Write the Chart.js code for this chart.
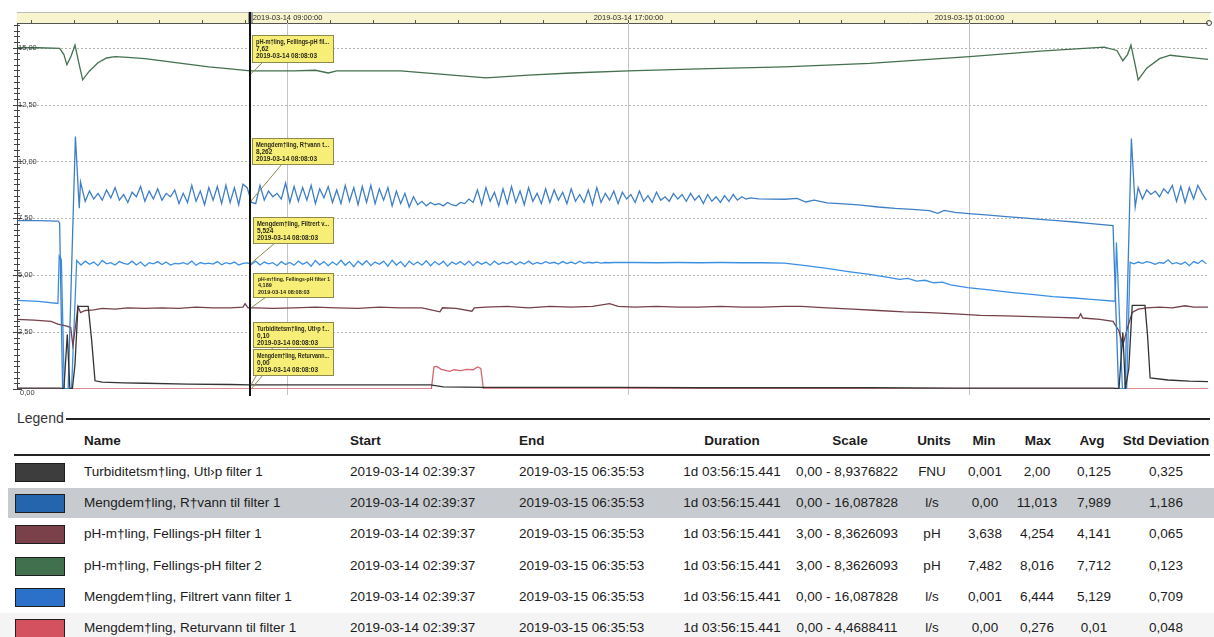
<!DOCTYPE html>
<html>
<head>
<meta charset="utf-8">
<script src="https://cdn.jsdelivr.net/npm/chart.js@4.4.1/dist/chart.umd.min.js"></script>
<style>
  html, body { margin: 0; padding: 0; background: #fff; }
  body { width: 1214px; height: 637px; overflow: hidden; position: relative;
         font-family: "Liberation Sans", Arial, sans-serif; color: #1c1c1c; }
  #chartBox { position: absolute; left: 0; top: 0; width: 1214px; height: 400px; }
  #legend { position: absolute; left: 0; top: 400px; width: 1214px; height: 237px; }
  .cell { position: absolute; white-space: nowrap; font-size: 13.5px; line-height: 16px; }
  .head { font-weight: bold; }
  .mid { transform: translateX(-50%); }
</style>
</head>
<body>
<div id="chartBox"><canvas id="trend" width="1214" height="400"></canvas></div>
<div id="legend"></div>
<script>
// Period shown (hours are counted from the start of the period)
const periodStart = "2019-03-14 02:39:37";
const periodEnd = "2019-03-15 06:35:53";
const periodDuration = "1d 03:56:15.441";
const startClock = 2 + 39 / 60 + 37 / 3600;   // 02:39:37 as hours of 2019-03-14
const totalHours = 27.93762;
const SAMPLE_STEP = 0.1;                        // dense stretches are logged every 6 min

// Top time axis
const timeLabels = ["2019-03-14 09:00:00", "2019-03-14 17:00:00", "2019-03-15 01:00:00"];
const timeLabelClock = [9, 17, 25];
// Left value axis
const yTickValues = [0, 2.5, 5, 7.5, 10, 12.5, 15];

// Series (legend order)
const seriesNames = [
    "Turbiditetsm†ling, Utl›p filter 1",
    "Mengdem†ling, R†vann til filter 1",
    "pH-m†ling, Fellings-pH filter 1",
    "pH-m†ling, Fellings-pH filter 2",
    "Mengdem†ling, Filtrert vann filter 1",
    "Mengdem†ling, Returvann til filter 1"
];
const lineColors = ["#333333", "#3f7fc6", "#74404a", "#44704f", "#3b8fe3", "#d8646e"];
const swatchColors = ["#3d3d3d", "#2465ae", "#7a414b", "#41704f", "#2b71c9", "#d4525f"];
const scaleMin = [0, 0, 3, 3, 0, 0];
const scaleMax = [8.9376822, 16.087828, 8.3626093, 8.3626093, 16.087828, 4.4688411];
const units = ["FNU", "l/s", "pH", "pH", "l/s", "l/s"];
const statMin = ["0,001", "0,00", "3,638", "7,482", "0,001", "0,00"];
const statMax = ["2,00", "11,013", "4,254", "8,016", "6,444", "0,276"];
const statAvg = ["0,125", "7,989", "4,141", "7,712", "5,129", "0,01"];
const statStd = ["0,325", "1,186", "0,065", "0,123", "0,709", "0,048"];

// Turbidity (FNU)
const turbHours = [0, 0.5, 1.0, 1.1, 1.18, 1.24, 1.3, 1.36, 1.43, 1.67,
    1.75, 1.83, 2.0, 2.5, 3.0, 4.0, 5.0, 5.47, 6.5, 8.0,
    9.7, 10.0, 11.0, 12.0, 14.0, 16.0, 18.0, 20.0, 22.0, 24.0,
    25.71, 25.85, 25.94, 26.0, 26.08, 26.16, 26.46, 26.52, 26.58, 27.0,
    27.5, 27.94];
const turbValues = [0.02, 0.02, 0.02, 0.01, 1.33, 0.02, 0.01, 0.6, 2.02, 2.02,
    1.2, 0.20, 0.17, 0.15, 0.14, 0.12, 0.11, 0.10, 0.10, 0.10,
    0.10, 0.05, 0.04, 0.04, 0.04, 0.03, 0.03, 0.03, 0.02, 0.02,
    0.02, 0.01, 1.38, 0.01, 0.5, 2.04, 2.04, 1.3, 0.27, 0.22,
    0.19, 0.18];

// Raw water flow (l/s)
const ravannHoursA = [0, 0.5, 0.96, 1.0, 1.07, 1.2, 1.37, 1.46, 1.49];
const ravannA = [7.40, 7.40, 7.38, 7.30, 0, 0, 11.10, 7.95, 9.10];
const ravannDenseStartA = 1.6;
const ravannDenseA = [
    8.25, 8.70, 8.35, 8.60, 8.30, 8.75, 8.40, 8.85, 8.30, 8.55,
    8.20, 8.65, 8.45, 8.90, 8.25, 8.70, 8.35, 8.80, 8.30, 8.60,
    8.45, 8.75, 8.15, 8.60, 8.20, 8.95, 8.25, 8.70, 8.10, 8.85,
    8.30, 8.90, 8.15, 8.95, 8.20, 8.85, 8.10, 9.00, 8.85, 8.20,
    8.15, 8.95, 8.30, 8.70, 8.45, 8.60, 8.35, 9.05, 8.20, 8.90,
    8.25, 8.85, 8.30, 8.95, 8.15, 8.80, 8.40, 8.90, 8.20, 8.75,
    8.15, 8.95, 8.25, 8.85, 8.10, 8.90, 8.20, 8.95, 8.15, 8.80,
    8.30, 8.85, 8.05, 8.70, 8.15, 8.60, 8.00, 8.45, 8.10, 8.25,
    8.05, 8.20, 8.10, 8.15, 8.05, 8.20, 8.10, 8.05, 8.20, 8.15,
    8.35, 8.20, 8.75, 8.10, 8.85, 8.25, 8.65, 8.05, 8.80, 8.15,
    8.90, 8.20, 8.70, 8.10, 8.85, 8.25, 8.60, 8.15, 8.80, 8.20,
    8.75, 8.30, 8.65, 8.15, 8.80, 8.25, 8.55, 8.20, 8.75, 8.10,
    8.85, 8.20, 8.60, 8.30, 8.70, 8.15, 8.65, 8.35, 8.55, 8.20,
    8.70, 8.25, 8.50, 8.20, 8.65, 8.30, 8.45, 8.25, 8.60, 8.35,
    8.55, 8.25, 8.60, 8.30, 8.50, 8.15, 8.55, 8.25, 8.45, 8.20,
    8.50, 8.25, 8.55, 8.30, 8.45, 8.35, 8.40, 8.38, 8.36];
const ravannHoursB = [17.7, 18.0, 18.3, 18.5, 18.7, 19.0, 19.4, 19.8, 20.2, 20.6,
    21.0, 21.4, 21.6, 21.75, 22.0, 22.4, 22.8, 23.2, 23.6, 24.0,
    24.4, 24.8, 25.2, 25.71, 25.84, 25.99, 26.14, 26.23];
const ravannB = [8.35, 8.34, 8.38, 8.22, 8.30, 8.18, 8.14, 8.08, 8.00, 7.94,
    7.90, 7.84, 7.72, 7.85, 7.76, 7.70, 7.64, 7.58, 7.52, 7.46,
    7.40, 7.34, 7.27, 7.18, 0, 0, 11.01, 8.00];
const ravannDenseStartB = 26.3;
const ravannDenseB = [8.85, 8.35, 8.75, 8.55, 8.70, 8.45, 8.80, 8.60, 8.95, 8.25,
    8.90, 8.20, 8.85, 8.35, 8.95, 8.60, 8.30];

// Coagulation pH, filter 1
const ph1Hours = [0, 0.4, 0.8, 0.96, 1.17, 1.26, 1.31, 1.38, 1.43, 1.49,
    1.6, 1.8, 2.0, 2.3, 2.6, 3.0, 3.4, 3.8, 4.2, 4.6,
    5.0, 5.3, 5.35, 5.42, 5.6, 6.0, 6.5, 7.0, 7.5, 8.0,
    8.5, 9.0, 9.5, 9.92, 9.98, 10.3, 10.67, 10.73, 11.0, 11.5,
    12.0, 12.5, 13.0, 13.5, 13.9, 14.1, 14.5, 15.0, 15.5, 16.0,
    16.5, 17.0, 17.5, 18.0, 18.4, 19.0, 19.6, 20.2, 20.8, 21.4,
    22.0, 22.6, 23.2, 23.8, 24.4, 24.9, 24.95, 25.0, 25.4, 25.71,
    25.85, 25.94, 26.05, 26.16, 26.3, 26.5, 26.8, 27.1, 27.4, 27.6,
    27.94];
const ph1Values = [4.02, 4.01, 3.99, 3.95, 3.92, 3.90, 3.64, 3.95, 4.21, 4.12,
    4.15, 4.16, 4.18, 4.17, 4.19, 4.18, 4.19, 4.18, 4.20, 4.19,
    4.19, 4.20, 4.25, 4.19, 4.19, 4.18, 4.19, 4.20, 4.19, 4.18,
    4.20, 4.19, 4.19, 4.13, 4.19, 4.18, 4.14, 4.19, 4.20, 4.21,
    4.19, 4.21, 4.20, 4.21, 4.25, 4.21, 4.20, 4.21, 4.20, 4.20,
    4.21, 4.20, 4.20, 4.21, 4.21, 4.19, 4.17, 4.15, 4.13, 4.12,
    4.10, 4.08, 4.07, 4.06, 4.05, 4.04, 4.10, 4.04, 4.02, 3.99,
    3.85, 3.64, 3.90, 4.12, 4.17, 4.19, 4.20, 4.19, 4.22, 4.20,
    4.20];

// Coagulation pH, filter 2
const ph2Hours = [0, 0.5, 1.0, 1.1, 1.17, 1.27, 1.36, 1.45, 1.54, 1.7,
    1.9, 2.1, 2.3, 2.6, 3.0, 3.5, 4.0, 4.5, 5.0, 5.47,
    6.0, 6.5, 7.0, 7.3, 7.5, 8.0, 9.0, 10.0, 11.0, 12.0,
    13.0, 14.34, 16, 18, 20, 22.34, 24, 25.5, 25.8, 25.94,
    26.05, 26.13, 26.22, 26.3, 26.5, 26.8, 27.05, 27.5, 27.94];
const ph2Values = [8.00, 8.00, 7.99, 7.90, 7.75, 7.88, 8.04, 7.78, 7.53, 7.66,
    7.78, 7.85, 7.87, 7.86, 7.84, 7.80, 7.76, 7.72, 7.69, 7.66,
    7.66, 7.66, 7.67, 7.63, 7.66, 7.66, 7.66, 7.61, 7.56, 7.60,
    7.63, 7.66, 7.69, 7.72, 7.77, 7.87, 7.95, 8.01, 7.96, 7.81,
    7.90, 8.04, 7.78, 7.53, 7.70, 7.84, 7.89, 7.86, 7.83];

// Filtered water flow (l/s)
const filtHoursA = [0, 0.5, 0.96, 0.99, 1.04, 1.11, 1.28, 1.40];
const filtA = [3.90, 3.85, 3.76, 5.85, 5.70, 0, 0, 5.65];
const filtDenseStartA = 1.5;
const filtDenseA = [
    5.45, 5.62, 5.48, 5.58, 5.42, 5.65, 5.50, 5.55, 5.45, 5.60,
    5.52, 5.48, 5.62, 5.45, 5.58, 5.40, 5.55, 5.50, 5.60, 5.47,
    5.58, 5.45, 5.52, 5.50, 5.55, 5.48, 5.62, 5.44, 5.56, 5.50,
    5.53, 5.49, 5.60, 5.46, 5.55, 5.50, 5.58, 5.45, 5.52, 5.54,
    5.48, 5.62, 5.45, 5.58, 5.50, 5.55, 5.42, 5.60, 5.47, 5.56,
    5.44, 5.62, 5.48, 5.58, 5.40, 5.65, 5.46, 5.60, 5.42, 5.58,
    5.45, 5.66, 5.44, 5.60, 5.38, 5.62, 5.46, 5.64, 5.42, 5.58,
    5.48, 5.62, 5.40, 5.66, 5.45, 5.60, 5.38, 5.62, 5.46, 5.58,
    5.44, 5.64, 5.42, 5.60, 5.46, 5.62, 5.40, 5.58, 5.48, 5.60,
    5.45, 5.62, 5.42, 5.60, 5.48, 5.58, 5.44, 5.62, 5.47, 5.57,
    5.50, 5.60, 5.46, 5.58, 5.49, 5.62, 5.48, 5.56, 5.50, 5.60,
    5.52, 5.57, 5.49, 5.60, 5.51, 5.58, 5.50, 5.62, 5.52, 5.57,
    5.54, 5.58, 5.53, 5.56, 5.55, 5.56];
const filtHoursB = [14.5, 15.0, 15.5, 16.0, 16.5, 17.0, 17.5, 18.0, 18.5, 19.0,
    19.5, 20.0, 20.4, 20.7, 20.9, 21.1, 21.3, 21.5, 21.7, 21.9,
    22.3, 22.8, 23.3, 23.8, 24.3, 24.8, 25.2, 25.76, 25.79, 25.93,
    26.03, 26.11];
const filtB = [5.56, 5.55, 5.56, 5.55, 5.56, 5.55, 5.55, 5.53, 5.42, 5.30,
    5.16, 5.04, 4.92, 4.82, 4.86, 4.74, 4.78, 4.67, 4.70, 4.58,
    4.46, 4.36, 4.25, 4.16, 4.06, 4.00, 3.94, 3.86, 6.44, 0,
    0, 5.57];
const filtDenseStartB = 26.2;
const filtDenseB = [5.50, 5.58, 5.52, 5.60, 5.55, 5.48, 5.56, 5.53, 5.68, 5.50,
    5.55, 5.48, 5.58, 5.42, 5.60, 5.52, 5.66, 5.50];

// Return water flow (l/s)
const returHours = [0, 9.72, 9.78, 9.85, 9.95, 10.15, 10.25, 10.4, 10.55, 10.7, 10.8, 10.88, 10.94, 27.94];
const returValues = [0, 0, 0.27, 0.275, 0.24, 0.215, 0.235, 0.225, 0.24, 0.235, 0.27, 0.25, 0, 0];

// Cursor read-out boxes
const cursorHour = 5.4739;                 // 08:08:03
const cursorTime = "2019-03-14 08:08:03";
const tipSeries = [3, 1, 4, 2, 0, 5];
const tipTitles = ["pH-m†ling, Fellings-pH fil...", "Mengdem†ling, R†vann t...", "Mengdem†ling, Filtrert v...",
                   "pH-m†ling, Fellings-pH filter 1", "Turbiditetsm†ling, Utl›p f...", "Mengdem†ling, Returvann..."];
const tipValues = [7.62, 8.262, 5.524, 4.189, 0.10, 0.00];
const tipText = ["7,62", "8,262", "5,524", "4,189", "0,10", "0,00"];

function pairs(hours, values) {
    return hours.map(function(h, i) { return { x: h, y: values[i] }; });
}
function dense(start, values) {
    return values.map(function(v, i) { return { x: +(start + i * SAMPLE_STEP).toFixed(2), y: v }; });
}
function comma(v, d) { return v.toFixed(d).replace('.', ','); }

const seriesData = [
    pairs(turbHours, turbValues),
    [].concat(pairs(ravannHoursA, ravannA), dense(ravannDenseStartA, ravannDenseA),
              pairs(ravannHoursB, ravannB), dense(ravannDenseStartB, ravannDenseB)),
    pairs(ph1Hours, ph1Values),
    pairs(ph2Hours, ph2Values),
    [].concat(pairs(filtHoursA, filtA), dense(filtDenseStartA, filtDenseA),
              pairs(filtHoursB, filtB), dense(filtDenseStartB, filtDenseB)),
    pairs(returHours, returValues)
];
const axisIds = ["yTurb", "y", "yPh", "yPh", "y", "yRet"];

function line(ctx, x1, y1, x2, y2) {
    ctx.beginPath(); ctx.moveTo(x1, y1); ctx.lineTo(x2, y2); ctx.stroke();
}

const decor = {
    id: "decor",
    beforeDatasetsDraw(chart) {
        const ctx = chart.ctx, a = chart.chartArea, xs = chart.scales.x, ys = chart.scales.y;
        ctx.save();
        // time band on top
        ctx.fillStyle = "#f8f4cd";
        ctx.fillRect(a.left, 12, a.right - a.left + 2, a.top - 12);
        ctx.lineWidth = 1;
        ctx.strokeStyle = "#bdbdbd";
        line(ctx, a.left, 12.5, a.right + 3, 12.5);
        ctx.strokeStyle = "#555";
        line(ctx, a.left, a.top + 0.5, a.right, a.top + 0.5);
        for (let k = Math.ceil(startClock); k <= startClock + totalHours; k++) {
            const px = Math.round(xs.getPixelForValue(k - startClock)) + 0.5;
            line(ctx, px, a.top - 3, px, a.top + 1);
        }
        // horizontal grid
        ctx.strokeStyle = "#b3b3b3";
        ctx.setLineDash([2, 2]);
        yTickValues.forEach(function(v) {
            if (v === 0) return;
            const py = Math.round(ys.getPixelForValue(v)) + 0.5;
            line(ctx, a.left, py, a.right, py);
        });
        ctx.setLineDash([]);
        // major time grid and labels
        ctx.font = "7.5px 'Liberation Sans', Arial, sans-serif";
        ctx.textAlign = "center";
        ctx.textBaseline = "middle";
        timeLabelClock.forEach(function(c, i) {
            const px = Math.round(xs.getPixelForValue(c - startClock)) + 0.5;
            ctx.strokeStyle = "#c4c4c4";
            line(ctx, px, a.top, px, a.bottom + 6);
            ctx.fillStyle = "#2a2a2a";
            ctx.fillText(timeLabels[i], px, 17.5);
        });
        ctx.restore();
    },
    afterDatasetsDraw(chart) {
        const ctx = chart.ctx, a = chart.chartArea, xs = chart.scales.x, ys = chart.scales.y;
        ctx.save();
        // left axis with minor ticks
        ctx.strokeStyle = "#444";
        ctx.lineWidth = 1;
        line(ctx, a.left + 0.5, a.top, a.left + 0.5, a.bottom);
        for (let v = 0; v <= scaleMax[1]; v += 0.25) {
            const py = Math.round(ys.getPixelForValue(v)) + 0.5;
            const major = Math.abs(v / 2.5 - Math.round(v / 2.5)) < 1e-6;
            line(ctx, a.left - (major ? 4 : 3), py, a.left + (major ? 5 : 3), py);
        }
        ctx.font = "7.5px 'Liberation Sans', Arial, sans-serif";
        ctx.fillStyle = "#3a3a3a";
        ctx.textAlign = "left";
        ctx.textBaseline = "middle";
        yTickValues.forEach(function(v) {
            const py = ys.getPixelForValue(v);
            ctx.fillText(comma(v, 2), a.left + (v === 0 ? 3 : 1), v === 0 ? py + 4 : py);
        });
        // end marker
        ctx.strokeStyle = "#444";
        ctx.beginPath(); ctx.arc(a.right + 1, a.top, 2.5, 0, Math.PI * 2); ctx.stroke();
        // cursor
        const cx = Math.round(xs.getPixelForValue(cursorHour));
        ctx.fillStyle = "#9a9a9a";
        ctx.fillRect(cx - 2, 12, 5, a.top - 12);
        ctx.strokeStyle = "#111";
        ctx.lineWidth = 2;
        line(ctx, cx, 12, cx, a.bottom + 7);
        // read-out boxes
        const boxes = [[252, 35, 81, 27, 263], [252, 138, 81, 26, 282], [253, 217, 80, 26, 275],
                       [253, 273, 80, 24, 266], [253, 322, 80, 25, 273], [253, 349, 80, 26, 263]];
        boxes.forEach(function(b, i) {
            const s = tipSeries[i];
            const py = chart.scales[axisIds[s]].getPixelForValue(tipValues[i]);
            ctx.strokeStyle = "#8d8a4c";
            ctx.lineWidth = 1;
            line(ctx, cx + 1, py, b[4], b[1] + b[3]);
            ctx.fillStyle = "#f7ee78";
            ctx.fillRect(b[0], b[1], b[2], b[3]);
            ctx.strokeRect(b[0] + 0.5, b[1] + 0.5, b[2], b[3]);
            ctx.fillStyle = "#2b2b1a";
            ctx.textAlign = "left";
            ctx.textBaseline = "middle";
            const small = i === 3;
            ctx.font = (small ? "bold 5.5px" : "bold 6.5px") + " 'Liberation Sans', Arial, sans-serif";
            const tx = b[0] + (small ? 5 : 4);
            const step = small ? 6.5 : 7;
            const y0 = b[1] + (small ? 6 : 7);
            ctx.fillText(tipTitles[i], tx, y0, b[2] - 8);
            ctx.fillText(tipText[i], tx, y0 + step);
            ctx.fillText(cursorTime, tx, y0 + 2 * step, b[2] - 8);
        });
        ctx.restore();
    }
};

new Chart(document.getElementById("trend").getContext("2d"), {
    type: "line",
    data: {
        datasets: seriesData.map(function(d, i) {
            return {
                label: seriesNames[i],
                data: d,
                yAxisID: axisIds[i],
                borderColor: lineColors[i],
                borderWidth: 1.3,
                pointRadius: 0,
                tension: 0,
                fill: false
            };
        })
    },
    options: {
        responsive: false,
        animation: false,
        layout: { padding: { left: 17, right: 6, top: 23, bottom: 11 } },
        scales: {
            x: { type: "linear", min: 0, max: totalHours, display: false },
            y: { min: scaleMin[1], max: scaleMax[1], display: false },
            yTurb: { min: scaleMin[0], max: scaleMax[0], display: false },
            yPh: { min: scaleMin[2], max: scaleMax[2], display: false },
            yRet: { min: scaleMin[5], max: scaleMax[5], display: false }
        },
        plugins: { legend: { display: false }, tooltip: { enabled: false } }
    },
    plugins: [decor]
});

// Legend table
const legend = document.getElementById("legend");
function cell(text, x, yc, cls) {
    const d = document.createElement("div");
    d.className = "cell " + (cls || "");
    d.textContent = text;
    d.style.left = x + "px";
    d.style.top = (yc - 8) + "px";
    legend.appendChild(d);
    return d;
}
function block(x, y, w, h, bg, border) {
    const d = document.createElement("div");
    d.style.cssText = "position:absolute;left:" + x + "px;top:" + y + "px;width:" + w + "px;height:" + h +
        "px;background:" + bg + ";" + (border ? "border:" + border + ";box-sizing:border-box;" : "");
    legend.appendChild(d);
}
block(0, 213, 1214, 24, "#f4f4f4");
block(8, 88, 1206, 30, "#c7cbcf");
const lg = cell("Legend", 17, 18, "");
lg.style.fontSize = "14px";
lg.style.color = "#333";
block(66, 18, 1144, 2, "#222");
block(14, 54, 1196, 2, "#222");

const headers = ["Name", "Start", "End", "Duration", "Scale", "Units", "Min", "Max", "Avg", "Std Deviation"];
const headerX = [84, 350, 519, 732, 850, 934, 984, 1038, 1092, 1166];
const colX = [84, 350, 519, 732, 847, 932, 985, 1037, 1094, 1166];
headers.forEach(function(h, i) { cell(h, headerX[i], 41, "head" + (i > 2 ? " mid" : "")); });

seriesNames.forEach(function(name, r) {
    const yc = 72 + r * 31.2;
    block(15, yc - 9, 50, 19, swatchColors[r], "1.5px solid #1e1e1e");
    const scaleText = comma(scaleMin[r], 2) + " - " + String(scaleMax[r]).replace('.', ',');
    const row = [name, periodStart, periodEnd, periodDuration, scaleText, units[r],
                 statMin[r], statMax[r], statAvg[r], statStd[r]];
    row.forEach(function(t, i) { cell(t, colX[i], yc, i > 2 ? "mid" : ""); });
});
</script>
</body>
</html>
